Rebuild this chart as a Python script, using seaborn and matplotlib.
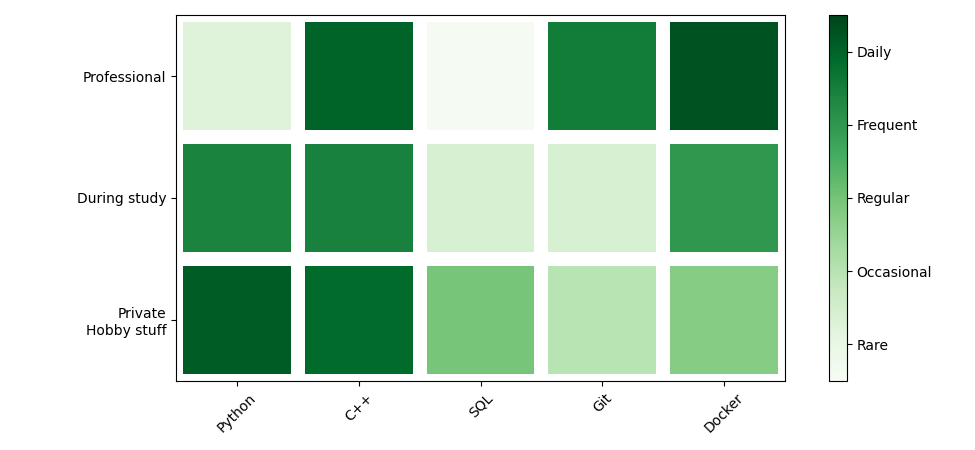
import numpy as np
import pandas as pd
import matplotlib
matplotlib.use("Agg")
import matplotlib.pyplot as plt
import seaborn as sns

tools = ["Python", "C++", "SQL", "Git", "Docker"]
contexts = ["Professional", "During study", "Private\nHobby stuff"]
levels = ["Rare", "Occasional", "Regular", "Frequent", "Daily"]

professional = [1.25, 5.0, 0.57, 4.55, 5.25]
during_study = [4.4, 4.45, 1.4, 1.4, 4.0]
private_hobby = [5.12, 4.9, 2.97, 2.0, 2.75]

df = pd.DataFrame([professional, during_study, private_hobby], index=contexts, columns=tools)

fig = plt.figure(figsize=(9.75, 4.5), dpi=100)
ax = fig.add_axes([176 / 975, (450 - 381) / 450, 609 / 975, 366 / 450])
cax = fig.add_axes([829 / 975, (450 - 381) / 450, 18 / 975, 366 / 450])

sns.heatmap(df, ax=ax, cbar_ax=cax, cmap="Greens", vmin=0.5, vmax=5.5,
            linewidths=10, linecolor="white")

for s in ax.spines.values():
    s.set_visible(True)
    s.set_linewidth(0.8)
    s.set_color("black")

ax.set_xlabel("")
ax.set_ylabel("")
ax.set_xticklabels(tools, rotation=45, ha="center")
ax.set_yticklabels(contexts, rotation=0, va="center_baseline", ha="right", multialignment="right")
ax.tick_params(axis="both", length=3.5, width=0.8, labelsize=10)

cb = ax.collections[0].colorbar
cb.set_ticks([1, 2, 3, 4, 5])
cb.set_ticklabels(levels)
cb.outline.set_linewidth(0.8)
cb.outline.set_edgecolor("black")
cb.ax.tick_params(length=3.5, width=0.8, labelsize=10)

fig.savefig("out.png", dpi=100)
